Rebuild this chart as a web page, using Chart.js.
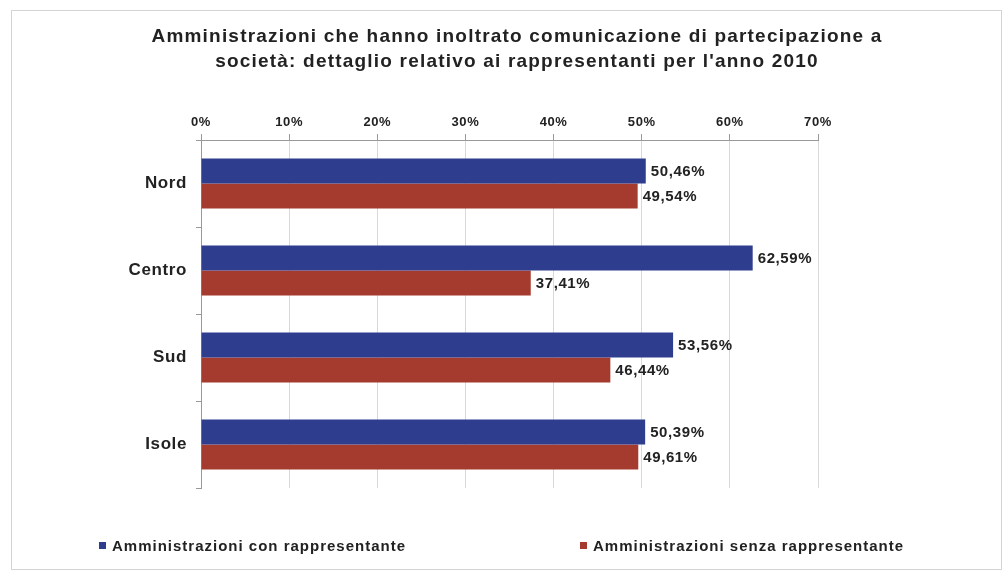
<!DOCTYPE html>
<html>
<head>
<meta charset="utf-8">
<script src="https://cdn.jsdelivr.net/npm/chart.js@4.4.0/dist/chart.umd.min.js"></script>
<style>
  body { margin: 0; background: #fff; }
  #wrap { position: relative; width: 1008px; height: 576px; }
  #legend { position: absolute; top: 537px; left: 0; width: 1008px; height: 20px;
    font: bold 15px "Liberation Sans", Arial, sans-serif; letter-spacing: 1px; color: #222; }
  #legend span { position: absolute; white-space: nowrap; }
  #legend i { display: inline-block; width: 7px; height: 7px; margin-right: 6px; vertical-align: 2px; }
</style>
</head>
<body>
<div id="wrap">
  <canvas id="chart" width="1008" height="576"></canvas>
  <div id="legend"></div>
</div>
<script>
// categorie e serie
const regioni = ['Nord', 'Centro', 'Sud', 'Isole'];
const conRappresentante = [50.46, 62.59, 53.56, 50.39];
const senzaRappresentante = [49.54, 37.41, 46.44, 49.61];
const serieNomi = ['Amministrazioni con rappresentante', 'Amministrazioni senza rappresentante'];
const titolo = [
  'Amministrazioni che hanno inoltrato comunicazione di partecipazione a',
  'società: dettaglio relativo ai rappresentanti per l\'anno 2010',
];

const BLU = '#2e3d8d';
const ROSSO = '#a53b2f';
const FONT = '"Liberation Sans", Arial, sans-serif';

// cornice esterna + spaziatura lettere per tutto il testo
const cornice = {
  id: 'cornice',
  beforeUpdate(chart) {
    chart.ctx.letterSpacing = '0.6px';
  },
  beforeDraw(chart) {
    const { ctx } = chart;
    ctx.letterSpacing = '0.6px';
    ctx.save();
    ctx.fillStyle = '#ffffff';
    ctx.fillRect(0, 0, chart.width, chart.height);
    ctx.strokeStyle = '#d4d4d4';
    ctx.lineWidth = 1;
    ctx.strokeRect(11.5, 10.5, 990, 559);
    ctx.restore();
  },
};

// titolo su due righe
const titoloPlugin = {
  id: 'titoloPlugin',
  afterDraw(chart) {
    const { ctx } = chart;
    ctx.save();
    ctx.letterSpacing = '1.2px';
    ctx.font = `bold 19px ${FONT}`;
    ctx.fillStyle = '#222';
    ctx.textAlign = 'center';
    ctx.textBaseline = 'middle';
    titolo.forEach((riga, i) => ctx.fillText(riga, 517, 37 + i * 25));
    ctx.restore();
  },
};

// etichette con i valori a destra delle barre
const etichette = {
  id: 'etichette',
  afterDatasetsDraw(chart) {
    const { ctx } = chart;
    ctx.save();
    ctx.font = `bold 15px ${FONT}`;
    ctx.fillStyle = '#222';
    ctx.textBaseline = 'middle';
    chart.data.datasets.forEach((ds, i) => {
      chart.getDatasetMeta(i).data.forEach((bar, j) => {
        const testo = `${ds.data[j].toFixed(2).replace('.', ',')}%`;
        ctx.fillText(testo, bar.x + 5, bar.y + 1);
      });
    });
    ctx.restore();
  },
};

const chart = new Chart(document.getElementById('chart'), {
  type: 'bar',
  data: {
    labels: regioni,
    datasets: [
      { label: serieNomi[0], data: conRappresentante, backgroundColor: BLU },
      { label: serieNomi[1], data: senzaRappresentante, backgroundColor: ROSSO },
    ],
  },
  options: {
    indexAxis: 'y',
    responsive: false,
    animation: false,
    layout: { padding: { left: 116, right: 190, top: 112, bottom: 88 } },
    datasets: { bar: { categoryPercentage: 0.575, barPercentage: 1 } },
    plugins: {
      legend: { display: false },
      tooltip: { enabled: false },
      title: { display: false },
    },
    scales: {
      x: {
        position: 'top',
        min: 0,
        max: 70,
        afterFit(scale) { scale.height = 28; },
        ticks: {
          stepSize: 10,
          color: '#222',
          font: { family: FONT, size: 13, weight: 'bold' },
          padding: 4,
          callback: (v) => `${v}%`,
        },
        grid: { color: '#d9d9d9', tickLength: 6, tickColor: '#999' },
        border: { color: '#999' },
      },
      y: {
        afterFit(scale) { scale.width = 85; },
        ticks: {
          color: '#222',
          font: { family: FONT, size: 17, weight: 'bold' },
          padding: 9,
        },
        grid: { drawOnChartArea: false, tickLength: 5, tickColor: '#999' },
        border: { color: '#999' },
      },
    },
  },
  plugins: [cornice, etichette, titoloPlugin],
});

// legenda in basso
const legenda = document.getElementById('legend');
const posLegenda = [99, 580];
chart.data.datasets.forEach((ds, i) => {
  const s = document.createElement('span');
  s.style.left = `${posLegenda[i]}px`;
  s.innerHTML = `<i style="background:${ds.backgroundColor}"></i>${ds.label}`;
  legenda.appendChild(s);
});
</script>
</body>
</html>
